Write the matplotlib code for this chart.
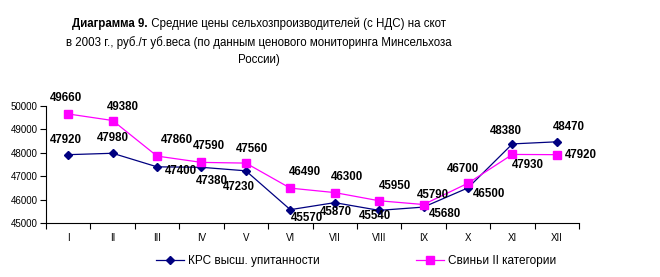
import numpy as np
import matplotlib
matplotlib.use("Agg")
import matplotlib.pyplot as plt

months = ["I", "II", "III", "IV", "V", "VI", "VII", "VIII", "IX", "X", "XI", "XII"]
krs = [47920, 47980, 47400, 47380, 47230, 45570, 45870, 45540, 45680, 46500, 48380, 48470]
pigs = [49660, 49380, 47860, 47590, 47560, 46490, 46300, 45950, 45790, 46700, 47930, 47920]
krs_name = "КРС высш. упитанности"
pigs_name = "Свиньи II категории"

# label offsets in pixels (dx, dy), screen y pointing up
krs_off = [(-2, 15), (0, 15), (24, -4), (10, -14), (-7, -16), (17, -8),
           (1, -9), (-4, -6), (21, -7), (21, -6), (-7, 13), (12, 15)]
pigs_off = [(-2, 16), (10, 14), (20, 16), (7, 16), (6, 14), (15, 16),
            (12, 16), (16, 15), (9, 10), (-5, 14), (15, -11), (24, 0)]

plt.rcParams['font.family'] = ['Liberation Sans', 'DejaVu Sans']

DPI = 100
fig = plt.figure(figsize=(6.6, 2.77), dpi=DPI)
W, H = 660, 277
ax = fig.add_axes([46 / W, 1 - 223 / H, (579 - 46) / W, (223 - 106) / H])

x = np.arange(len(months))
ax.plot(x, krs, color="#000080", marker="D", markersize=4.5, linewidth=0.9,
        label=krs_name)
ax.plot(x, pigs, color="#FF00FF", marker="s", markersize=5.5, linewidth=0.9,
        label=pigs_name)

px = 72.0 / DPI
for xi, v, (dx, dy) in zip(x, krs, krs_off):
    ax.annotate(str(v), (xi, v), xytext=(dx * px, dy * px), textcoords="offset points",
                ha="center", va="center", fontsize=8.3, fontweight="bold", color="black")
for xi, v, (dx, dy) in zip(x, pigs, pigs_off):
    ax.annotate(str(v), (xi, v), xytext=(dx * px, dy * px), textcoords="offset points",
                ha="center", va="center", fontsize=8.3, fontweight="bold", color="black")

ax.set_xlim(-0.5, len(months) - 0.5)
ax.set_ylim(45000, 50000)
ax.set_yticks(np.arange(45000, 50001, 1000))
ax.set_xticks(x)
ax.set_xticklabels(months)
ax.set_xticks(np.arange(-0.5, len(months), 1), minor=True)
ax.tick_params(axis="x", which="major", length=0, labelsize=7, pad=7)
ax.tick_params(axis="x", which="minor", length=4, width=0.8, direction="out")
ax.tick_params(axis="y", length=4, width=0.8, labelsize=7, pad=2)
for s in ["top", "right"]:
    ax.spines[s].set_visible(False)
for s in ["left", "bottom"]:
    ax.spines[s].set_linewidth(0.8)
ax.set_facecolor("white")

# legend entries as separate boxes
h1, h2 = ax.get_lines()
fig.legend([h1], [krs_name], loc="center left", bbox_to_anchor=(150 / W, 1 - 261 / H),
           frameon=False, fontsize=8.5, handlelength=2.4, handletextpad=0.3, borderpad=0)
fig.legend([h2], [pigs_name], loc="center left", bbox_to_anchor=(410 / W, 1 - 261 / H),
           frameon=False, fontsize=8.5, handlelength=2.4, handletextpad=0.3, borderpad=0)

# title, first line: bold part + normal part centred together
fig.canvas.draw()
r = fig.canvas.get_renderer()
cx = 259 / W
fs = 8.3
t_bold = fig.text(0, 1 - 24 / H, "Диаграмма 9.", fontsize=fs, fontweight="bold",
                  va="center", ha="left")
t_rest = fig.text(0, 1 - 24 / H, " Средние цены сельхозпроизводителей (с НДС) на скот",
                  fontsize=fs, va="center", ha="left")
wb = t_bold.get_window_extent(r).width
wr = t_rest.get_window_extent(r).width
start = cx * W - (wb + wr) / 2
t_bold.set_x(start / W)
t_rest.set_x((start + wb) / W)
fig.text(cx, 1 - 43 / H, "в 2003 г., руб./т уб.веса (по данным ценового мониторинга Минсельхоза",
         fontsize=fs, va="center", ha="center")
fig.text(cx, 1 - 60 / H, "России)", fontsize=fs, va="center", ha="center")

fig.savefig("out.png", dpi=DPI)
